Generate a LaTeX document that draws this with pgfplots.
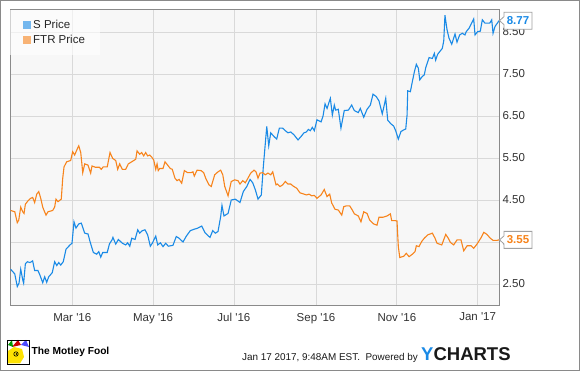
\documentclass[border=0pt]{standalone}
\usepackage{pgfplots}
\pgfplotsset{compat=1.18}
\usepackage{fontspec}
\setmainfont{Liberation Sans}
\definecolor{sblue}{HTML}{1A8AE6}
\definecolor{forange}{HTML}{F7841C}
\definecolor{bgcol}{HTML}{F7F7F7}
\definecolor{gridcol}{HTML}{D9D9D9}
\definecolor{framecol}{HTML}{8A8A8A}
\definecolor{txtcol}{HTML}{333333}
\definecolor{ychblue}{HTML}{1A8AE6}
\begin{document}
\begin{tikzpicture}[x=1pt,y=1pt]
\useasboundingbox (0,0) rectangle (580,371);
\fill[white] (0,0) rectangle (580,371);
\draw[framecol, line width=1.4pt] (0.7,0.7) rectangle (579.3,370.3);
\begin{axis}[
  at={(10pt,65pt)}, anchor=south west,
  scale only axis, width=489pt, height=296pt,
  xmin=13, xmax=382.1, ymin=1.976, ymax=9.024,
  axis background/.style={fill=bgcol},
  axis line style={draw=framecol, line width=1pt},
  grid=major, grid style={draw=gridcol, line width=0.8pt},
  xtick={60,121,182,244,305,366},
  xticklabels={Mar \textquotesingle16, May \textquotesingle16, Jul \textquotesingle16, Sep \textquotesingle16, Nov \textquotesingle16, Jan \textquotesingle17},
  ytick={2.5,3.5,4.5,5.5,6.5,7.5,8.5},
  yticklabel pos=right,
  major tick length=0pt,
  tick style={draw=none},
  ticklabel style={font=\fontsize{11.5}{13}\selectfont, text=txtcol},
  xticklabel style={yshift=-3.5pt},
  /pgf/number format/.cd, fixed, fixed zerofill, precision=2, assume math mode=true,
  /pgfplots/.cd,
  clip mode=individual,
  legend style={at={(0,1)}, anchor=north west, draw=none, fill=white, fill opacity=0.6, text opacity=1,
    font=\fontsize{11.5}{13}\selectfont, text=black!85, inner xsep=13pt, inner ysep=8pt, row sep=1pt},
  legend cell align=left,
  legend image code/.code={\fill[#1,draw=none] (0pt,-4pt) rectangle (8pt,4pt);},
]
\addplot[sblue, line width=1.1pt] coordinates {
(13.5,2.85)(16.6,2.74)(18.5,2.44)(19.8,2.52)(21.1,2.85)(22.6,2.60)(23.3,2.52)(24.6,2.98)(26.1,3.03)(28.1,3.01)(30.1,3.05)(31.6,2.82)(34.1,2.82)(35.6,2.71)(37.7,2.53)(39.2,2.67)(40.7,2.54)(42.2,2.67)(44.9,2.77)(46.7,3.03)(48.3,2.94)(49.8,3.01)(51.3,2.95)(53.2,3.03)(55.3,3.33)(58.3,3.43)(59.8,3.47)(61.3,3.98)(62.8,3.83)(64.9,3.93)(66.8,3.95)(69.4,3.71)(71.9,3.69)(73.4,3.51)(75.9,3.25)(78.4,3.21)(80.0,3.27)(81.5,3.14)(83.0,3.25)(86.4,3.25)(88.0,3.45)(90.0,3.55)(90.7,3.61)(92.8,3.45)(94.8,3.56)(97.8,3.47)(100.3,3.43)(101.8,3.48)(103.4,3.40)(104.9,3.59)(107.4,3.56)(109.4,3.79)(110.9,3.71)(112.9,3.77)(114.9,3.79)(116.9,3.67)(118.9,3.40)(120.4,3.47)(123.0,3.64)(124.5,3.43)(126.5,3.48)(128.5,3.39)(130.5,3.47)(132.5,3.40)(136.0,3.42)(138.5,3.63)(140.6,3.59)(143.6,3.50)(146.1,3.64)(149.1,3.77)(151.7,3.80)(154.7,3.83)(157.7,3.88)(160.2,3.72)(163.2,3.63)(164.0,3.61)(166.0,3.77)(168.0,3.71)(170.0,3.75)(172.0,4.10)(173.0,4.37)(174.5,4.12)(177.6,4.18)(180.0,4.50)(183.1,4.52)(186.6,4.44)(189.1,4.70)(191.7,4.82)(194.2,4.99)(196.2,4.91)(198.2,4.74)(200.2,4.52)(202.7,4.62)(204.2,5.29)(205.5,5.77)(206.8,6.25)(208.3,5.79)(209.8,6.10)(212.3,6.01)(214.3,5.95)(216.3,6.21)(218.8,6.21)(220.8,6.15)(222.8,6.10)(224.9,6.12)(227.4,6.05)(230.4,5.93)(232.9,6.02)(234.9,6.10)(236.7,6.12)(238.2,6.18)(239.7,6.15)(241.2,6.23)(242.7,6.15)(244.7,6.41)(247.8,6.36)(249.3,6.50)(250.8,6.79)(252.3,6.68)(254.8,6.92)(256.3,6.52)(257.8,6.76)(258.8,6.64)(260.8,6.66)(262.8,6.21)(265.3,6.63)(268.4,6.64)(270.9,6.76)(272.9,6.63)(275.9,6.58)(277.4,6.68)(280.0,6.47)(282.5,6.66)(285.0,6.76)(287.0,7.02)(289.5,6.96)(291.5,6.86)(294.0,6.55)(296.6,6.92)(298.1,6.40)(300.6,6.31)(302.6,6.26)(304.1,6.15)(306.1,5.95)(308.1,6.13)(310.2,6.17)(311.7,6.19)(312.7,6.52)(313.2,7.10)(315.2,7.08)(316.7,7.32)(318.2,7.55)(319.7,7.73)(321.2,7.64)(322.3,7.36)(324.2,7.44)(325.7,7.48)(326.8,7.65)(329.3,7.89)(331.8,7.87)(333.3,7.99)(334.3,7.83)(335.8,7.97)(339.3,8.11)(340.4,8.29)(341.3,8.90)(342.9,8.55)(344.4,8.35)(346.4,8.21)(348.9,8.45)(350.4,8.26)(352.4,8.43)(354.4,8.47)(356.4,8.43)(357.4,8.51)(359.5,8.59)(363.0,8.81)(364.0,8.43)(366.0,8.51)(368.0,8.52)(369.5,8.79)(371.5,8.71)(375.1,8.71)(376.6,8.79)(377.6,8.47)(379.1,8.63)(382.1,8.77)
};
\addlegendentry{S Price}
\addplot[forange, line width=1.1pt] coordinates {
(13.5,4.25)(16.6,4.22)(18.5,3.96)(19.6,4.02)(21.1,4.33)(22.6,4.22)(23.6,4.18)(24.6,4.40)(26.6,4.48)(28.6,4.54)(30.1,4.56)(31.6,4.44)(33.2,4.64)(34.7,4.70)(36.2,4.54)(37.7,4.33)(38.7,4.25)(40.2,4.14)(41.7,4.22)(45.2,4.25)(46.7,4.33)(47.7,4.52)(49.2,4.46)(51.7,4.52)(52.8,5.02)(53.8,5.29)(55.8,5.41)(58.8,5.44)(60.3,5.65)(61.8,5.57)(63.4,5.69)(64.9,5.79)(66.4,5.63)(67.9,5.15)(69.4,5.36)(71.9,5.33)(73.9,5.14)(74.9,5.31)(77.4,5.28)(80.4,5.28)(81.9,5.23)(83.4,5.29)(86.4,5.29)(88.5,5.63)(90.5,5.49)(92.8,5.44)(94.3,5.23)(95.8,5.36)(97.8,5.23)(100.3,5.23)(102.3,5.36)(104.9,5.41)(107.9,5.47)(108.9,5.67)(110.9,5.59)(112.4,5.63)(113.9,5.55)(115.4,5.63)(116.9,5.55)(118.5,5.57)(120.0,5.52)(121.5,5.45)(123.0,5.23)(124.0,5.36)(124.9,5.20)(126.0,5.25)(128.5,5.25)(130.0,5.41)(132.0,5.33)(134.0,5.25)(135.5,5.23)(137.5,5.02)(139.1,4.96)(140.6,4.99)(142.6,4.90)(144.6,5.20)(147.1,5.15)(149.6,5.15)(151.1,5.17)(152.1,5.07)(154.2,5.21)(157.2,5.20)(159.2,5.15)(160.7,5.02)(163.2,4.86)(164.9,4.82)(167.5,5.10)(170.0,5.17)(172.0,5.21)(173.6,5.10)(175.1,4.82)(177.6,4.60)(180.0,4.94)(182.6,4.98)(185.1,4.96)(186.6,4.88)(188.7,4.96)(190.6,4.91)(192.6,5.02)(194.7,5.14)(197.2,5.21)(198.7,5.17)(200.2,5.02)(201.7,5.14)(203.7,5.15)(205.7,5.10)(207.7,5.14)(209.8,5.10)(211.3,5.17)(213.8,4.86)(214.8,4.88)(216.8,4.82)(218.8,4.86)(220.8,4.94)(222.8,4.88)(224.9,4.88)(226.8,4.83)(229.4,4.78)(231.9,4.67)(234.9,4.64)(236.7,4.62)(238.7,4.64)(240.7,4.60)(242.7,4.61)(244.7,4.54)(247.8,4.62)(250.2,4.75)(252.3,4.58)(254.3,4.64)(255.8,4.43)(258.3,4.28)(260.8,4.26)(263.4,4.14)(264.9,4.34)(266.8,4.36)(269.4,4.36)(271.4,4.26)(272.9,4.17)(275.9,4.12)(277.9,3.98)(280.0,4.22)(282.5,4.18)(284.5,4.02)(287.5,3.93)(290.0,3.90)(291.5,4.09)(294.6,4.09)(297.6,4.12)(300.1,4.17)(301.1,4.01)(303.6,4.01)(305.1,4.00)(306.1,3.39)(307.2,3.13)(310.2,3.16)(312.1,3.23)(314.2,3.15)(316.7,3.21)(318.7,3.27)(319.7,3.41)(321.7,3.39)(323.7,3.51)(325.7,3.59)(328.3,3.67)(331.8,3.71)(333.8,3.59)(335.3,3.47)(338.9,3.43)(341.9,3.68)(343.8,3.59)(345.4,3.49)(347.9,3.43)(350.4,3.55)(353.4,3.55)(355.5,3.29)(358.0,3.41)(361.0,3.41)(363.0,3.35)(365.5,3.45)(368.5,3.60)(370.6,3.73)(373.0,3.68)(375.5,3.59)(377.6,3.54)(380.6,3.54)(382.1,3.55)
};
\addlegendentry{FTR Price}
\coordinate (ps) at (axis cs:382.1,8.77);
\coordinate (pf) at (axis cs:382.1,3.55);
\end{axis}
% value callouts
\foreach \p/\c/\v in {ps/sblue/8.77, pf/forange/3.55}{
  \filldraw[fill=white, draw=framecol!80, line width=0.8pt]
    ([xshift=0.5pt]\p) -- ++(4.5pt,4pt) -- ++(0,4.5pt) -- ++(28pt,0) -- ++(0,-17pt) -- ++(-28pt,0) -- ++(0,4.5pt) -- cycle;
  \node[anchor=center, text=\c, font=\bfseries\fontsize{11.5}{13}\selectfont, inner sep=0pt] at ([xshift=19pt]\p) {\v};
}
% footer: Motley Fool logo (simplified)
\begin{scope}
\fill[white] (7.5,7) rectangle (29.5,31);
\fill[yellow!85!orange] (8,7.5) -- (8,20) -- (14,24) -- (22,22) -- (24,14) -- (20,7.5) -- cycle;
\fill[red!80!black] (12,24) -- (18,31) -- (21,26) -- cycle;
\fill[blue!70] (21,26) -- (26,31) -- (29,24) -- cycle;
\fill[green!60!black] (8,26) -- (12,31) -- (13,24) -- cycle;
\draw[black, line width=0.6pt] (16,17) circle (2.2pt);
\fill[black] (16.5,17) circle (0.9pt);
\draw[black, line width=0.8pt] (7.5,7) rectangle (29.5,31);
\end{scope}
\node[anchor=west, font=\bfseries\fontsize{10.2}{12}\selectfont, inner sep=0pt, text=black] at (31.5,19.5) {The Motley Fool};
\node[anchor=east, font=\fontsize{9.9}{12}\selectfont, inner sep=0pt, text=black!90] at (418,13.5) {Jan 17 2017, 9:48AM EST.\ \ Powered by};
\node[anchor=west, font=\bfseries\fontsize{18.5}{20}\selectfont, inner sep=0pt] at (421,17) {\textcolor{ychblue}{Y}\textcolor{black!90}{CHARTS}};
\end{tikzpicture}
\end{document}
